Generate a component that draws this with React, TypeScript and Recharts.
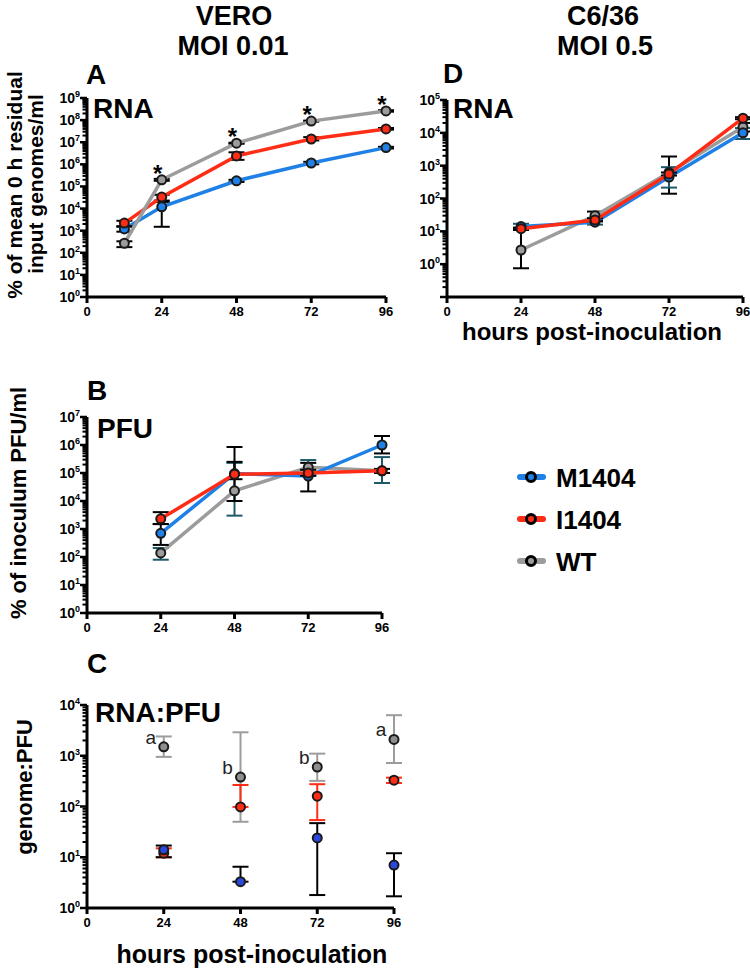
import React from 'react';
import { LineChart, Line, XAxis, YAxis, ErrorBar, LabelList } from 'recharts';

const FONT = '"Liberation Sans", Arial, Helvetica, sans-serif';

// ---- series meta ----
const seriesNames = ['M1404', 'I1404', 'WT'];
const seriesColors = ['#1f80e6', '#ff2d16', '#9c9c9c'];
const teal = '#1c5a68';
const hourTicks = [0, 24, 48, 72, 96];

// ---- Panel A: VERO RNA ----
const hoursA = [12, 24, 48, 72, 96];
const rnaM = [1.2e3, 1.2e4, 1.8e5, 1.15e6, 5.7e6];
const rnaMLo = [900, 1.5e3, 1.6e5, 1.0e6, 5.2e6];
const rnaMHi = [1.5e3, 2.0e4, 2.0e5, 1.3e6, 6.2e6];
const rnaI = [2.2e3, 3.3e4, 2.4e6, 1.4e7, 4.0e7];
const rnaILo = [1.6e3, 2.3e4, 1.6e6, 1.2e7, 3.7e7];
const rnaIHi = [2.8e3, 4.2e4, 3.5e6, 1.7e7, 4.4e7];
const rnaW = [2.7e2, 2.0e5, 9.0e6, 9.0e7, 2.6e8];
const rnaWLo = [1.8e2, 1.8e5, 8.5e6, 8.5e7, 2.4e8];
const rnaWHi = [3.3e2, 2.2e5, 9.5e6, 9.5e7, 2.8e8];
const sigA = ['', '*', '*', '*', '*'];

// ---- Panel B: VERO PFU ----
const hoursB = [24, 48, 72, 96];
const pfuM = [7.0e2, 9.5e4, 7.8e4, 1.0e6];
const pfuMLo = [2.7e2, 1.0e4, 2.2e4, 5.0e5];
const pfuMHi = [1.5e3, 8.5e5, 2.3e5, 2.1e6];
const pfuI = [2.3e3, 9.0e4, 1.0e5, 1.2e5];
const pfuILo = [1.5e3, 6.0e4, 8.0e4, 1.0e5];
const pfuIHi = [4.0e3, 2.5e5, 1.3e5, 1.4e5];
const pfuW = [1.4e2, 2.3e4, 1.6e5, 1.2e5];
const pfuWLo = [80, 3.0e3, 8.0e4, 4.4e4];
const pfuWHi = [2.1e2, 2.3e5, 2.9e5, 3.7e5];

// ---- Panel C: RNA:PFU ----
const hoursC = [24, 48, 72, 96];
const ratioM = [14, 3.3, 24, 7];
const ratioMLo = [10, 3.3, 1.8, 1.7];
const ratioMHi = [17, 6.5, 47, 12];
const ratioI = [12, 98, 160, 330];
const ratioILo = [10, 98, 54, 290];
const ratioIHi = [15, 265, 275, 370];
const ratioW = [1500, 380, 600, 2100];
const ratioWLo = [950, 50, 320, 720];
const ratioWHi = [2400, 2900, 1100, 6300];
const lettersC = ['a', 'b', 'b', 'a'];

// ---- Panel D: C6/36 RNA ----
const hoursD = [24, 48, 72, 96];
const c6M = [14, 19, 450, 1.0e4];
const c6MLo = [11, 16, 215, 6.5e3];
const c6MHi = [17, 24, 900, 1.4e4];
const c6I = [12, 22, 560, 2.8e4];
const c6ILo = [11, 20, 500, 2.6e4];
const c6IHi = [13, 25, 620, 3.0e4];
const c6W = [2.7, 30, 620, 1.5e4];
const c6WLo = [0.75, 22, 140, 1.1e4];
const c6WHi = [12, 40, 1.9e3, 2.0e4];

type S = { key: string; v: number[]; lo: number[]; hi: number[] };
function buildRows(hours: number[], series: S[], extra: Record<string, string[]> = {}) {
  return hours.map((h, k) => {
    const r: any = { h };
    series.forEach((s) => {
      r[s.key] = s.v[k];
      r[s.key + 'Err'] = [s.v[k] - s.lo[k], s.hi[k] - s.v[k]];
    });
    Object.keys(extra).forEach((key) => {
      r[key] = extra[key][k];
    });
    return r;
  });
}

const dataA = buildRows(hoursA, [
  { key: 'm', v: rnaM, lo: rnaMLo, hi: rnaMHi },
  { key: 'i', v: rnaI, lo: rnaILo, hi: rnaIHi },
  { key: 'w', v: rnaW, lo: rnaWLo, hi: rnaWHi },
], { sig: sigA });
const dataB = buildRows(hoursB, [
  { key: 'm', v: pfuM, lo: pfuMLo, hi: pfuMHi },
  { key: 'i', v: pfuI, lo: pfuILo, hi: pfuIHi },
  { key: 'w', v: pfuW, lo: pfuWLo, hi: pfuWHi },
]);
const dataC = buildRows(hoursC, [
  { key: 'm', v: ratioM, lo: ratioMLo, hi: ratioMHi },
  { key: 'i', v: ratioI, lo: ratioILo, hi: ratioIHi },
  { key: 'w', v: ratioW, lo: ratioWLo, hi: ratioWHi },
], { letter: lettersC });
const dataD = buildRows(hoursD, [
  { key: 'm', v: c6M, lo: c6MLo, hi: c6MHi },
  { key: 'i', v: c6I, lo: c6ILo, hi: c6IHi },
  { key: 'w', v: c6W, lo: c6WLo, hi: c6WHi },
]);

function logTicks(loExp: number, hiExp: number) {
  const t: number[] = [];
  for (let e = loExp; e < hiExp; e++) {
    for (let m = 1; m < 10; m++) t.push(m * Math.pow(10, e));
  }
  t.push(Math.pow(10, hiExp));
  return t;
}

const LogTick = (props: any) => {
  const { x, y, payload, lo, hi } = props;
  const v = payload.value;
  const lg = Math.log10(v);
  const e = Math.round(lg);
  const major = Math.abs(lg - e) < 1e-6;
  const show = major && e >= lo && e <= hi;
  return (
    <g>
      <line x1={x - (major ? 7 : 4.5)} x2={x} y1={y} y2={y} stroke="#000" strokeWidth={major ? 2.5 : 2} />
      {show && (
        <text x={x - 7} y={y + 5} textAnchor="end" fontFamily={FONT} fontWeight={700} fontSize={14} fill="#000">
          10<tspan dy={-6} fontSize={9}>{e}</tspan>
        </text>
      )}
    </g>
  );
};

const StarLabel = (p: any) => {
  if (!p.value) return null;
  const x = p.x ?? p.viewBox?.x;
  const y = p.y ?? p.viewBox?.y;
  return (
    <text x={x - 4} y={y + 2} textAnchor="middle" fontFamily={FONT} fontWeight={700} fontSize={24} fill="#000">
      {p.value}
    </text>
  );
};

const LetterLabel = (p: any) => {
  if (!p.value) return null;
  const x = p.x ?? p.viewBox?.x;
  const y = p.y ?? p.viewBox?.y;
  return (
    <text x={x - 13} y={y - 3} textAnchor="middle" fontFamily={FONT} fontSize={19} fill="#222">
      {p.value}
    </text>
  );
};

const xAxis = () => (
  <XAxis
    type="number"
    dataKey="h"
    domain={[0, 96]}
    ticks={hourTicks}
    interval={0}
    height={33}
    axisLine={{ stroke: '#000', strokeWidth: 3 }}
    tickLine={{ stroke: '#000', strokeWidth: 3 }}
    tickSize={6}
    tickMargin={4}
    tick={{ fill: '#000', fontSize: 13, fontWeight: 700, fontFamily: FONT }}
  />
);

const yAxis = (domain: number[], ticks: number[], lo: number, hi: number) => (
  <YAxis
    type="number"
    scale="log"
    domain={domain}
    ticks={ticks}
    interval={0}
    width={87}
    axisLine={{ stroke: '#000', strokeWidth: 3 }}
    tickLine={false}
    tickSize={0}
    tickMargin={0}
    tick={(p: any) => <LogTick {...p} lo={lo} hi={hi} />}
  />
);

const seriesLine = (key: string, color: string, errColor: string, showLine = true, fill?: string, child?: any) => (
  <Line
    key={key}
    type="linear"
    dataKey={key}
    stroke={showLine ? color : 'none'}
    strokeWidth={3.5}
    dot={{ r: 4.5, fill: fill || color, stroke: '#1a1a1a', strokeWidth: 2 }}
    activeDot={false}
    isAnimationActive={false}
  >
    <ErrorBar dataKey={key + 'Err'} width={8} strokeWidth={2} stroke={errColor} direction="y" />
    {child}
  </Line>
);

const T = (props: any) => <text fontFamily={FONT} fontWeight={700} fill="#000" {...props} />;

export default function App() {
  const [cM, cI, cW] = seriesColors;
  return (
    <div style={{ position: 'absolute', left: 0, top: 0, width: 750, height: 972, background: '#fff' }}>
      {/* Panel A */}
      <div style={{ position: 'absolute', left: 0, top: 0 }}>
        <LineChart width={400} height={330} data={dataA} margin={{ top: 98, right: 14, bottom: 0, left: 0 }}>
          {xAxis()}
          {yAxis([1, 1e9], logTicks(0, 9), 0, 9)}
          {seriesLine('m', cM, '#000')}
          {seriesLine('i', cI, '#000')}
          {seriesLine('w', cW, '#000', true, undefined, <LabelList dataKey="sig" content={(p: any) => <StarLabel {...p} />} />)}
        </LineChart>
      </div>
      {/* Panel D */}
      <div style={{ position: 'absolute', left: 360, top: 0 }}>
        <LineChart width={390} height={330} data={dataD} margin={{ top: 100, right: 7, bottom: 0, left: 0 }}>
          {xAxis()}
          {yAxis([0.1, 1e5], logTicks(-1, 5), 0, 5)}
          {seriesLine('w', cW, '#000')}
          {seriesLine('m', cM, teal)}
          {seriesLine('i', cI, '#000')}
        </LineChart>
      </div>
      {/* Panel B */}
      <div style={{ position: 'absolute', left: 0, top: 340 }}>
        <LineChart width={400} height={306} data={dataB} margin={{ top: 77, right: 18, bottom: 0, left: 0 }}>
          {xAxis()}
          {yAxis([1, 1e7], logTicks(0, 7), 0, 7)}
          {seriesLine('w', cW, teal)}
          {seriesLine('m', cM, '#000')}
          {seriesLine('i', cI, '#000')}
        </LineChart>
      </div>
      {/* Panel C */}
      <div style={{ position: 'absolute', left: 0, top: 650 }}>
        <LineChart width={410} height={291} data={dataC} margin={{ top: 55, right: 16, bottom: 0, left: 0 }}>
          {xAxis()}
          {yAxis([1, 1e4], logTicks(0, 4), 0, 4)}
          {seriesLine('w', cW, '#9c9c9c', false, '#8e8e8e', <LabelList dataKey="letter" content={(p: any) => <LetterLabel {...p} />} />)}
          {seriesLine('i', cI, cI, false)}
          {seriesLine('m', cM, '#000', false, '#2a48dc')}
        </LineChart>
      </div>

      {/* Text overlay */}
      <svg width={750} height={972} style={{ position: 'absolute', left: 0, top: 0, pointerEvents: 'none' }}>
        <T x={234} y={25} fontSize={27} textAnchor="middle">VERO</T>
        <T x={233} y={55} fontSize={27} textAnchor="middle">MOI 0.01</T>
        <T x={603} y={25} fontSize={27} textAnchor="middle">C6/36</T>
        <T x={605} y={55} fontSize={27} textAnchor="middle">MOI 0.5</T>

        <T x={86} y={84} fontSize={28}>A</T>
        <T x={93} y={118} fontSize={28}>RNA</T>
        <T x={443} y={83} fontSize={28}>D</T>
        <T x={453} y={118} fontSize={28}>RNA</T>
        <T x={87} y={400} fontSize={28}>B</T>
        <T x={97} y={438} fontSize={28}>PFU</T>
        <T x={87} y={673} fontSize={28}>C</T>
        <T x={95} y={722} fontSize={28}>RNA:PFU</T>

        <T x={22} y={185} fontSize={21} textAnchor="middle" transform="rotate(-90 22 185)">% of mean 0 h residual</T>
        <T x={43} y={184} fontSize={21} textAnchor="middle" transform="rotate(-90 43 184)">input genomes/ml</T>
        <T x={26} y={503} fontSize={22} textAnchor="middle" transform="rotate(-90 26 503)">% of inoculum PFU/ml</T>
        <T x={32} y={787} fontSize={22} textAnchor="middle" transform="rotate(-90 32 787)">genome:PFU</T>

        <T x={252} y={963} fontSize={25} textAnchor="middle">hours post-inoculation</T>
        <T x={592} y={340} fontSize={24} textAnchor="middle">hours post-inoculation</T>

        {seriesNames.map((n, k) => {
          const cy = 477 + k * 42;
          return (
            <g key={n}>
              <line x1={520} x2={543} y1={cy} y2={cy} stroke={seriesColors[k]} strokeWidth={6} strokeLinecap="round" />
              <circle cx={531} cy={cy} r={4.5} fill={seriesColors[k]} stroke="#000" strokeWidth={3} />
              <T x={556} y={cy + 10} fontSize={26}>{n}</T>
            </g>
          );
        })}
      </svg>
    </div>
  );
}
